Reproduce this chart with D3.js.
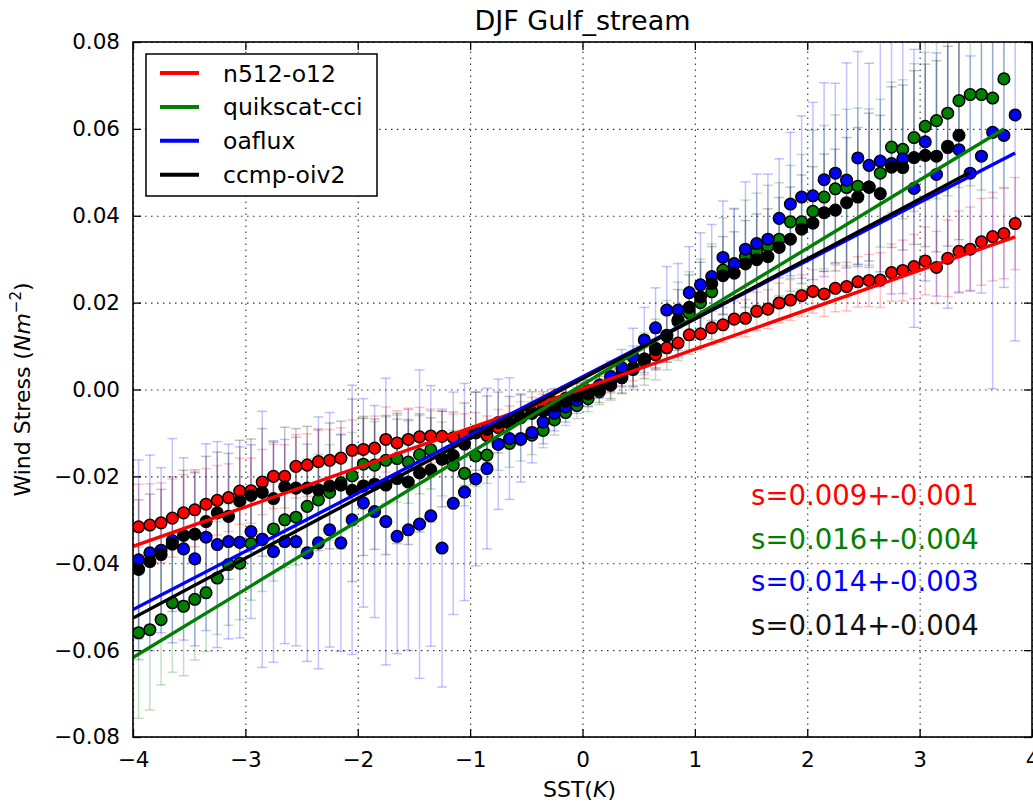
<!DOCTYPE html>
<html>
<head>
<meta charset="utf-8">
<script src="https://cdn.jsdelivr.net/npm/d3@7"></script>
<style>
  body { margin: 0; background: #fff; }
  text { font-family: "DejaVu Sans", sans-serif; }
</style>
</head>
<body>
<div id="chart"></div>
<script>
// SST anomaly bin centres (K)
const sstBins = [-3.95, -3.85, -3.75, -3.65, -3.55, -3.45, -3.35, -3.25, -3.15, -3.05,
  -2.95, -2.85, -2.75, -2.65, -2.55, -2.45, -2.35, -2.25, -2.15, -2.05,
  -1.95, -1.85, -1.75, -1.65, -1.55, -1.45, -1.35, -1.25, -1.15, -1.05,
  -0.95, -0.85, -0.75, -0.65, -0.55, -0.45, -0.35, -0.25, -0.15, -0.05,
  0.05, 0.15, 0.25, 0.35, 0.45, 0.55, 0.65, 0.75, 0.85, 0.95,
  1.05, 1.15, 1.25, 1.35, 1.45, 1.55, 1.65, 1.75, 1.85, 1.95,
  2.05, 2.15, 2.25, 2.35, 2.45, 2.55, 2.65, 2.75, 2.85, 2.95,
  3.05, 3.15, 3.25, 3.35, 3.45, 3.55, 3.65, 3.75, 3.85];

// wind stress (N m-2) per bin, and error bar half widths
const n512Stress = [-0.0316, -0.0312, -0.0307, -0.0296, -0.0284, -0.0277, -0.0264, -0.0255, -0.0249, -0.0234,
  -0.0233, -0.0213, -0.0200, -0.0200, -0.0177, -0.0174, -0.0166, -0.0163, -0.0158, -0.0140,
  -0.0138, -0.0135, -0.0115, -0.0123, -0.0115, -0.0109, -0.0107, -0.0108, -0.0111, -0.0106,
  -0.0100, -0.0106, -0.0088, -0.0078, -0.0065, -0.0052, -0.0042, -0.0030, -0.0020, -0.0012,
  -0.0003, 0.0008, 0.0020, 0.0035, 0.0050, 0.0065, 0.0080, 0.0096, 0.0107, 0.0126,
  0.0128, 0.0142, 0.0149, 0.0162, 0.0164, 0.0180, 0.0185, 0.0199, 0.0206, 0.0216,
  0.0226, 0.0220, 0.0233, 0.0237, 0.0248, 0.0251, 0.0252, 0.0269, 0.0274, 0.0283,
  0.0296, 0.0281, 0.0302, 0.0318, 0.0323, 0.0340, 0.0352, 0.0359, 0.0382];
const n512Err = [0.0098, 0.0095, 0.0092, 0.0090, 0.0088, 0.0085, 0.0082, 0.0080, 0.0078, 0.0076,
  0.0075, 0.0075, 0.0074, 0.0073, 0.0073, 0.0072, 0.0072, 0.0071, 0.0070, 0.0070,
  0.0072, 0.0074, 0.0075, 0.0074, 0.0072, 0.0068, 0.0062, 0.0058, 0.0054, 0.0050,
  0.0047, 0.0045, 0.0042, 0.0040, 0.0037, 0.0034, 0.0031, 0.0029, 0.0027, 0.0026,
  0.0026, 0.0027, 0.0028, 0.0029, 0.0030, 0.0031, 0.0032, 0.0033, 0.0034, 0.0035,
  0.0036, 0.0038, 0.0040, 0.0042, 0.0043, 0.0044, 0.0045, 0.0046, 0.0047, 0.0048,
  0.0050, 0.0052, 0.0054, 0.0056, 0.0058, 0.0060, 0.0063, 0.0066, 0.0070, 0.0074,
  0.0078, 0.0083, 0.0088, 0.0093, 0.0097, 0.0100, 0.0102, 0.0104, 0.0106];

const quikscatStress = [-0.0560, -0.0553, -0.0530, -0.0491, -0.0499, -0.0483, -0.0468, -0.0434, -0.0403, -0.0400,
  -0.0355, -0.0345, -0.0321, -0.0300, -0.0294, -0.0269, -0.0254, -0.0237, -0.0215, -0.0199,
  -0.0172, -0.0174, -0.0163, -0.0159, -0.0167, -0.0150, -0.0139, -0.0160, -0.0174, -0.0193,
  -0.0153, -0.0151, -0.0126, -0.0124, -0.0115, -0.0105, -0.0094, -0.0070, -0.0053, -0.0037,
  -0.0021, -0.0005, 0.0010, 0.0030, 0.0050, 0.0070, 0.0092, 0.0125, 0.0157, 0.0176,
  0.0200, 0.0225, 0.0275, 0.0290, 0.0306, 0.0317, 0.0330, 0.0346, 0.0386, 0.0386,
  0.0410, 0.0443, 0.0462, 0.0465, 0.0468, 0.0466, 0.0498, 0.0558, 0.0553, 0.0580,
  0.0606, 0.0619, 0.0636, 0.0665, 0.0679, 0.0679, 0.0671, 0.0715, null];
const quikscatErr = [0.0197, 0.0185, 0.0150, 0.0160, 0.0160, 0.0140, 0.0135, 0.0130, 0.0140, 0.0130,
  0.0130, 0.0120, 0.0120, 0.0110, 0.0110, 0.0110, 0.0105, 0.0110, 0.0110, 0.0100,
  0.0105, 0.0100, 0.0100, 0.0100, 0.0095, 0.0090, 0.0090, 0.0085, 0.0080, 0.0075,
  0.0070, 0.0065, 0.0060, 0.0055, 0.0050, 0.0045, 0.0040, 0.0035, 0.0030, 0.0030,
  0.0030, 0.0030, 0.0035, 0.0040, 0.0050, 0.0060, 0.0070, 0.0080, 0.0090, 0.0095,
  0.0100, 0.0110, 0.0120, 0.0125, 0.0130, 0.0135, 0.0140, 0.0130, 0.0130, 0.0155,
  0.0187, 0.0165, 0.0170, 0.0180, 0.0180, 0.0180, 0.0170, 0.0150, 0.0160, 0.0170,
  0.0170, 0.0180, 0.0190, 0.0200, 0.0210, 0.0220, 0.0230, 0.0250, null];

const oafluxStress = [-0.0392, -0.0376, -0.0370, -0.0348, -0.0367, -0.0390, -0.0340, -0.0357, -0.0350, -0.0352,
  -0.0327, -0.0345, -0.0373, -0.0350, -0.0350, -0.0376, -0.0353, -0.0323, -0.0353, -0.0300,
  -0.0261, -0.0281, -0.0304, -0.0338, -0.0323, -0.0310, -0.0291, -0.0365, -0.0262, -0.0236,
  -0.0206, -0.0182, -0.0126, -0.0113, -0.0113, -0.0099, -0.0075, -0.0055, -0.0040, -0.0025,
  -0.0010, 0.0010, 0.0030, 0.0050, 0.0075, 0.0114, 0.0142, 0.0183, 0.0183, 0.0223,
  0.0241, 0.0260, 0.0304, 0.0289, 0.0323, 0.0336, 0.0346, 0.0394, 0.0427, 0.0443,
  0.0446, 0.0483, 0.0498, 0.0482, 0.0533, 0.0516, 0.0526, 0.0520, 0.0531, 0.0463,
  0.0570, 0.0495, 0.0557, 0.0552, 0.0498, 0.0537, 0.0592, 0.0585, 0.0632];
const oafluxErr = [0.0230, 0.0225, 0.0190, 0.0235, 0.0210, 0.0200, 0.0215, 0.0237, 0.0224, 0.0220,
  0.0200, 0.0295, 0.0255, 0.0235, 0.0240, 0.0250, 0.0290, 0.0270, 0.0250, 0.0310,
  0.0240, 0.0244, 0.0330, 0.0270, 0.0277, 0.0355, 0.0300, 0.0320, 0.0256, 0.0250,
  0.0200, 0.0185, 0.0150, 0.0140, 0.0100, 0.0070, 0.0050, 0.0040, 0.0035, 0.0030,
  0.0030, 0.0030, 0.0035, 0.0042, 0.0066, 0.0075, 0.0092, 0.0100, 0.0107, 0.0106,
  0.0120, 0.0120, 0.0130, 0.0128, 0.0155, 0.0160, 0.0150, 0.0137, 0.0165, 0.0187,
  0.0215, 0.0223, 0.0207, 0.0270, 0.0245, 0.0235, 0.0290, 0.0300, 0.0310, 0.0320,
  0.0320, 0.0280, 0.0370, 0.0330, 0.0270, 0.0315, 0.0590, 0.0350, 0.0520];

const ccmpStress = [-0.0414, -0.0396, -0.0380, -0.0356, -0.0336, -0.0333, -0.0304, -0.0284, -0.0292, -0.0257,
  -0.0244, -0.0237, -0.0251, -0.0224, -0.0227, -0.0227, -0.0231, -0.0222, -0.0220, -0.0232,
  -0.0222, -0.0218, -0.0220, -0.0205, -0.0213, -0.0192, -0.0185, -0.0160, -0.0152, -0.0126,
  -0.0096, -0.0092, -0.0076, -0.0076, -0.0065, -0.0055, -0.0050, -0.0038, -0.0027, -0.0015,
  -0.0008, 0.0000, 0.0011, 0.0027, 0.0046, 0.0070, 0.0095, 0.0123, 0.0160, 0.0189,
  0.0213, 0.0244, 0.0262, 0.0268, 0.0289, 0.0299, 0.0306, 0.0327, 0.0346, 0.0369,
  0.0383, 0.0407, 0.0413, 0.0430, 0.0443, 0.0466, 0.0451, 0.0512, 0.0511, 0.0534,
  0.0539, 0.0537, 0.0560, 0.0585, null, null, null, null, null];
const ccmpErr = [0.0160, 0.0155, 0.0150, 0.0155, 0.0150, 0.0148, 0.0150, 0.0140, 0.0145, 0.0140,
  0.0130, 0.0147, 0.0130, 0.0137, 0.0137, 0.0142, 0.0140, 0.0145, 0.0147, 0.0210,
  0.0160, 0.0150, 0.0160, 0.0150, 0.0144, 0.0136, 0.0120, 0.0110, 0.0100, 0.0095,
  0.0090, 0.0077, 0.0070, 0.0060, 0.0055, 0.0050, 0.0045, 0.0040, 0.0035, 0.0030,
  0.0030, 0.0030, 0.0032, 0.0035, 0.0040, 0.0045, 0.0050, 0.0060, 0.0070, 0.0075,
  0.0080, 0.0085, 0.0090, 0.0095, 0.0100, 0.0105, 0.0110, 0.0115, 0.0120, 0.0125,
  0.0130, 0.0135, 0.0140, 0.0150, 0.0160, 0.0170, 0.0180, 0.0185, 0.0190, 0.0200,
  0.0210, 0.0220, 0.0230, 0.0240, null, null, null, null, null];

// linear fits: slope, intercept and x span of each fitted line
const fitSlopes = [0.00908, 0.0157, 0.01339, 0.01378];
const fitIntercepts = [0.0002, 0.0011, 0.0029, 0.0025];
const fitStart = [-4, -4, -4, -4];
const fitEnd = [3.85, 3.75, 3.85, 3.45];

const seriesNames = ["n512-o12", "quikscat-cci", "oaflux", "ccmp-oiv2"];
const slopeLabels = ["s=0.009+-0.001", "s=0.016+-0.004", "s=0.014+-0.003", "s=0.014+-0.004"];
const xTicks = [-4, -3, -2, -1, 0, 1, 2, 3, 4];
const yTicks = [-0.08, -0.06, -0.04, -0.02, 0, 0.02, 0.04, 0.06, 0.08];

const colors = ["#ff0000", "#008000", "#0000ff", "#000000"];
const stressSets = [n512Stress, quikscatStress, oafluxStress, ccmpStress];
const errSets = [n512Err, quikscatErr, oafluxErr, ccmpErr];

// setting the dimensions and margins of the graph
const margin = { top: 42, right: 1, bottom: 65, left: 133 },
  width = 1033 - margin.left - margin.right,
  height = 802 - margin.top - margin.bottom;

const root = d3.select("#chart")
  .append("svg")
  .attr("width", 1033)
  .attr("height", 802);

const svg = root.append("g")
  .attr("transform", "translate(" + margin.left + "," + margin.top + ")");

const x = d3.scaleLinear().domain([-4, 4]).range([0, width]);
const y = d3.scaleLinear().domain([-0.08, 0.08]).range([height, 0]);

svg.append("defs").append("clipPath").attr("id", "plotclip")
  .append("rect").attr("width", width).attr("height", height);

// dotted grid
svg.append("g")
  .attr("class", "grid")
  .attr("transform", "translate(0," + height + ")")
  .call(d3.axisBottom(x).tickValues(xTicks).tickSize(-height).tickFormat(""))
  .call(g => g.select(".domain").remove());
svg.append("g")
  .attr("class", "grid")
  .call(d3.axisLeft(y).tickValues(yTicks).tickSize(-width).tickFormat(""))
  .call(g => g.select(".domain").remove());
svg.selectAll(".grid line")
  .attr("stroke", "#333")
  .attr("stroke-width", 1.1)
  .attr("stroke-dasharray", "1.5,4.5");

const plot = svg.append("g").attr("clip-path", "url(#plotclip)");

// rows of points for each series
const rows = stressSets.map((vals, s) => sstBins.map((b, i) => ({
  sst: b, tau: vals[i], err: errSets[s][i], s: s
})).filter(d => d.tau !== null));

// error bars
const capHalf = 5;
rows.forEach((data, s) => {
  const g = plot.append("g")
    .attr("stroke", colors[s])
    .attr("stroke-opacity", 0.24)
    .attr("stroke-width", 1.5);
  g.selectAll("line.bar").data(data).enter().append("line")
    .attr("x1", d => x(d.sst)).attr("x2", d => x(d.sst))
    .attr("y1", d => y(d.tau - d.err)).attr("y2", d => y(d.tau + d.err));
  g.selectAll("line.capTop").data(data).enter().append("line")
    .attr("x1", d => x(d.sst) - capHalf).attr("x2", d => x(d.sst) + capHalf)
    .attr("y1", d => y(d.tau + d.err)).attr("y2", d => y(d.tau + d.err));
  g.selectAll("line.capBot").data(data).enter().append("line")
    .attr("x1", d => x(d.sst) - capHalf).attr("x2", d => x(d.sst) + capHalf)
    .attr("y1", d => y(d.tau - d.err)).attr("y2", d => y(d.tau - d.err));
});

// markers
rows.forEach((data, s) => {
  plot.append("g").selectAll("circle").data(data).enter().append("circle")
    .attr("cx", d => x(d.sst))
    .attr("cy", d => y(d.tau))
    .attr("r", 5.8)
    .attr("fill", colors[s])
    .attr("stroke", "#000")
    .attr("stroke-width", 1.5);
});

// fitted lines
fitSlopes.forEach((m, s) => {
  const ends = [fitStart[s], fitEnd[s]];
  plot.append("path")
    .datum(ends)
    .attr("fill", "none")
    .attr("stroke", colors[s])
    .attr("stroke-width", 3.4)
    .attr("d", d3.line().x(v => x(v)).y(v => y(fitIntercepts[s] + m * v)));
});

// frame
svg.append("rect")
  .attr("width", width).attr("height", height)
  .attr("fill", "none").attr("stroke", "#000").attr("stroke-width", 1.6);

// inward ticks on all sides
const tickLen = 8;
svg.append("g")
  .attr("transform", "translate(0," + height + ")")
  .call(d3.axisBottom(x).tickValues(xTicks).tickSize(-tickLen).tickSizeOuter(0).tickPadding(15)
    .tickFormat(d3.format("d")));
svg.append("g")
  .call(d3.axisTop(x).tickValues(xTicks).tickSize(-tickLen).tickSizeOuter(0).tickFormat(""));
svg.append("g")
  .call(d3.axisLeft(y).tickValues(yTicks).tickSize(-tickLen).tickSizeOuter(0).tickPadding(13)
    .tickFormat(d3.format(".2f")));
svg.append("g")
  .attr("transform", "translate(" + width + ",0)")
  .call(d3.axisRight(y).tickValues(yTicks).tickSize(-tickLen).tickSizeOuter(0).tickFormat(""));
svg.selectAll(".domain").remove();
svg.selectAll(".tick line").filter(function () { return !this.closest(".grid"); })
  .attr("stroke", "#000").attr("stroke-width", 1.3);
svg.selectAll(".tick text")
  .attr("font-family", "DejaVu Sans")
  .attr("font-size", 21.5)
  .attr("fill", "#000");

// slope annotations
const labelY = [-0.0266, -0.0367, -0.0464, -0.0566];
slopeLabels.forEach((t, s) => {
  svg.append("text")
    .attr("x", x(1.5))
    .attr("y", y(labelY[s]))
    .attr("font-size", 27.5)
    .attr("fill", colors[s] === "#000000" ? "#111" : colors[s])
    .text(t);
});

// legend
const legend = svg.append("g").attr("transform", "translate(13,12)");
legend.append("rect")
  .attr("width", 231).attr("height", 142)
  .attr("fill", "#fff").attr("stroke", "#000").attr("stroke-width", 1.5);
seriesNames.forEach((name, s) => {
  const ly = 19 + s * 33.9;
  legend.append("line")
    .attr("x1", 14).attr("x2", 53).attr("y1", ly).attr("y2", ly)
    .attr("stroke", colors[s]).attr("stroke-width", 4);
  legend.append("text")
    .attr("x", 77).attr("y", ly + 8.5)
    .attr("font-size", 23.5)
    .text(name);
});

// title and axis labels
root.append("text")
  .attr("x", margin.left + width / 2)
  .attr("y", 30)
  .attr("text-anchor", "middle")
  .attr("font-size", 27)
  .text("DJF Gulf_stream");

const xl = root.append("text")
  .attr("x", margin.left + width / 2 - 3)
  .attr("y", 797)
  .attr("text-anchor", "middle")
  .attr("font-size", 22);
xl.append("tspan").text("SST(");
xl.append("tspan").attr("font-style", "italic").text("K");
xl.append("tspan").text(")");

const yl = root.append("text")
  .attr("transform", "translate(30," + (margin.top + height / 2) + ") rotate(-90)")
  .attr("text-anchor", "middle")
  .attr("font-size", 22);
yl.append("tspan").text("Wind Stress (");
yl.append("tspan").attr("font-style", "italic").text("Nm");
yl.append("tspan").attr("font-size", 15).attr("dy", -9).text("−2");
yl.append("tspan").attr("dy", 9).text(")");
</script>
</body>
</html>
